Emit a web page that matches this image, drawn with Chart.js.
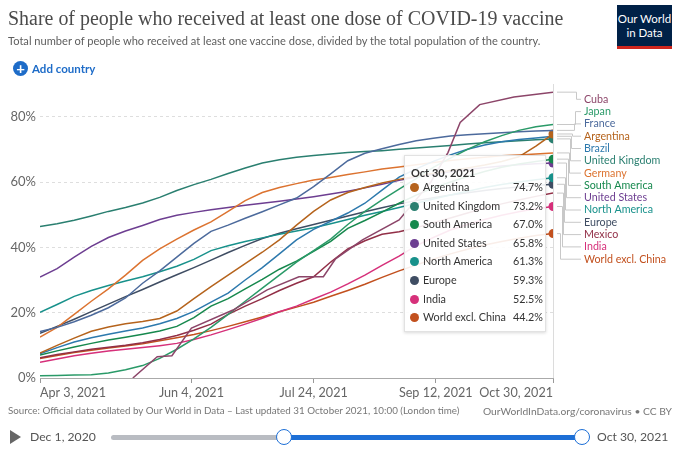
<!DOCTYPE html>
<html>
<head>
<meta charset="utf-8">
<script src="https://cdn.jsdelivr.net/npm/chart.js@4.4.1/dist/chart.umd.min.js"></script>
<style>
  body { margin:0; width:680px; height:451px; overflow:hidden; background:#fff; font-family:Lato, sans-serif; position:relative; }
  #chart { position:absolute; left:0; top:0; }
  .abs { position:absolute; white-space:nowrap; line-height:1; }
  #title { left:8px; top:9px; font-family:"Liberation Serif", serif; color:#4b4b4b; font-size:24px; }
  #subtitle { left:8px; top:35px; color:#5e5e5e; font-size:12.5px; }
  #add { left:13px; top:61px; color:#1e6cc8; font-size:11.5px; font-weight:bold; display:flex; align-items:center; }
  #add .plus { width:15px; height:15px; border-radius:50%; background:#1e6cc8; color:#fff; font-size:15px; line-height:15px; text-align:center; margin-right:4px; }
  #logo { left:617px; top:5px; width:55px; background:#002147; border-bottom:3px solid #ce261e; color:#fff; font-size:11.5px; text-align:center; line-height:14px; padding-top:7px; height:34px; }
  #source { left:8px; top:406px; color:#777; font-size:10px; }
  #credit { right:8px; top:406px; color:#777; font-size:10px; }
  #play { left:10px; top:430px; width:0; height:0; border-top:7px solid transparent; border-bottom:7px solid transparent; border-left:11px solid #666; }
  #start { left:30px; top:431px; color:#555; font-size:12.2px; }
  #end { left:597px; top:431px; color:#555; font-size:12.2px; }
  #track { left:111px; top:435px; width:471px; height:5px; background:#b9bcc2; border-radius:3px; }
  #range { left:284px; top:435px; width:298px; height:5px; background:#1d6fd6; }
  .handle { top:429px; width:14px; height:14px; border-radius:50%; background:#fff; border:1.5px solid #1d6fd6; }
  #tip { left:404px; top:155px; width:142px; height:177px; background:rgba(255,255,255,0.9); border:1px solid #e2e2e2; box-shadow:0 1px 3px rgba(0,0,0,0.15); box-sizing:border-box; font-size:10.8px; color:#333; }
  #tip .date { position:absolute; left:6px; top:11px; font-weight:bold; font-size:11px; }
  #tip .row { position:absolute; left:0; width:138px; height:14px; }
  #tip .dot { position:absolute; left:5px; top:1px; width:9px; height:9px; border-radius:50%; }
  #tip .name { position:absolute; left:18px; top:0; }
  #tip .val { position:absolute; right:0; top:0; }
</style>
</head>
<body>
<canvas id="chart" width="680" height="451"></canvas>
<div id="title" class="abs">Share of people who received at least one dose of COVID-19 vaccine</div>
<div id="subtitle" class="abs">Total number of people who received at least one vaccine dose, divided by the total population of the country.</div>
<div id="add" class="abs"><span class="plus">+</span>Add country</div>
<div id="logo" class="abs">Our World<br>in Data</div>
<div id="tip" class="abs"></div>
<div id="source" class="abs">Source: Official data collated by Our World in Data – Last updated 31 October 2021, 10:00 (London time)</div>
<div id="credit" class="abs">OurWorldInData.org/coronavirus • CC BY</div>
<div id="play" class="abs"></div>
<div id="start" class="abs">Dec 1, 2020</div>
<div id="track" class="abs"></div>
<div id="range" class="abs"></div>
<div class="abs handle" style="left:276px"></div>
<div class="abs handle" style="left:574px"></div>
<div id="end" class="abs">Oct 30, 2021</div>

<script>
// days since Apr 3, 2021 (weekly)
const days = [0,7,14,21,28,35,42,49,56,63,70,77,84,91,98,105,112,119,126,133,140,147,154,161,168,175,182,189,196,203,210];

const tickDays = [0, 62, 112, 162, 210];
const tickLabels = ["Apr 3, 2021", "Jun 4, 2021", "Jul 24, 2021", "Sep 12, 2021", "Oct 30, 2021"];
const yTicks = [0, 20, 40, 60, 80];
const hoverDate = "Oct 30, 2021";

// Cuba starts in May and is reported in steps
const cubaDays = [38,48,54,62,79,93,106,116,121,132,147,160,167,172,180,194,210];
const cuba = [0,6.5,6.8,15.3,20.8,27,31,31,36.5,42.3,48.4,60,69,78.2,83.7,86,87.5];

const japan = [0.7,0.8,0.9,1.0,1.5,2.5,3.8,6.0,8.8,12.0,15.5,19.5,23.5,27.5,31.5,35.5,39.0,42.5,47.0,51.0,54.5,57.8,61.0,64.5,67.3,70.0,72.3,74.2,75.8,76.9,77.6];
const france = [14.2,15.5,17.2,19.2,21.5,24.5,29.0,32.8,37.0,41.2,44.9,46.8,48.9,50.9,53.0,55.1,58.6,62.5,66.5,68.8,70.2,71.5,72.6,73.4,74.1,74.5,74.8,75.1,75.4,75.6,75.8];
const argentina = [7.6,10.0,12.2,14.3,15.6,16.6,17.3,18.2,20.5,24.3,28.0,31.5,35.0,38.5,42.3,46.8,51.0,54.5,56.8,58.3,59.7,60.8,61.8,62.7,63.5,64.3,65.2,66.3,67.7,71.0,74.7];
const brazil = [7.4,9.3,11.0,12.3,13.4,14.4,15.3,16.6,18.2,20.4,23.2,26.0,30.0,33.8,38.0,42.3,45.5,48.0,50.5,53.5,57.5,61.5,64.0,66.3,68.3,70.0,71.3,72.3,73.0,73.5,74.0];
const uk = [46.4,47.2,48.3,49.6,51.0,52.2,53.6,55.3,57.4,59.2,60.8,62.6,64.3,65.8,66.8,67.6,68.1,68.6,69.0,69.3,69.6,70.0,70.4,70.8,71.2,71.6,72.0,72.3,72.6,72.9,73.2];
const germany = [12.5,15.5,19.5,23.5,27.3,31.5,36.0,39.5,42.5,45.3,47.8,51.0,54.3,56.8,58.3,59.5,60.6,61.4,62.3,63.1,64.0,64.6,65.3,66.0,66.6,67.1,67.6,68.0,68.3,68.6,68.9];
const southAmerica = [7.0,8.3,9.5,10.6,11.6,12.5,13.4,14.4,15.8,18.5,22.0,24.3,27.3,30.2,33.3,35.8,38.8,41.8,45.8,48.2,50.8,53.5,56.0,58.2,60.0,61.7,63.2,64.5,65.5,66.3,67.0];
const us = [30.9,33.5,37.0,40.3,43.0,45.0,46.7,48.5,49.8,50.7,51.5,52.2,52.9,53.5,54.1,54.8,55.5,56.3,57.2,58.2,59.3,60.5,61.5,62.4,63.1,63.8,64.4,64.9,65.3,65.6,65.8];
const northAmerica = [20.1,22.5,25.0,26.8,28.3,29.7,31.0,32.5,34.2,36.3,39.0,40.5,41.8,42.9,44.0,45.0,46.0,47.2,48.5,49.8,51.0,52.2,53.5,54.8,56.0,57.2,58.3,59.2,60.0,60.7,61.3];
const europe = [13.7,15.8,18.0,20.3,22.6,24.9,27.1,29.4,31.6,33.8,36.1,38.4,40.6,42.7,44.3,45.7,47.0,48.3,49.6,50.9,52.1,53.3,54.3,55.2,56.0,56.7,57.4,58.0,58.5,58.9,59.3];
const mexico = [6.2,7.2,8.0,8.8,9.4,10.0,10.8,11.8,13.0,14.6,16.5,19.5,22.0,24.3,26.8,29.0,31.0,35.5,39.5,42.0,44.0,44.8,46.0,47.5,49.0,50.5,52.0,53.3,54.5,55.6,56.6];
const india = [4.8,5.8,6.8,7.6,8.3,8.8,9.3,9.9,10.6,11.8,13.2,14.8,16.5,18.3,20.3,22.0,24.2,26.3,28.8,31.5,34.5,37.3,40.5,43.0,45.3,47.0,48.5,49.8,50.9,51.8,52.5];
const worldExChina = [6.0,6.9,7.8,8.5,9.2,9.8,10.5,11.4,12.3,13.3,14.5,15.8,17.2,18.7,20.3,21.7,23.2,25.0,26.8,28.7,30.8,32.8,34.6,36.4,38.0,39.4,40.7,41.8,42.8,43.6,44.2];

// series in the order of the labels on the right
const series = [
    {name:"Cuba", x:cubaDays, y:cuba, color:"#8c4569", hover:false},
    {name:"Japan", x:days, y:japan, color:"#2a9a68", hover:false},
    {name:"France", x:days, y:france, color:"#4c6a9c", hover:false},
    {name:"Argentina", x:days, y:argentina, color:"#b5631c", hover:true},
    {name:"Brazil", x:days, y:brazil, color:"#2d79ad", hover:false},
    {name:"United Kingdom", x:days, y:uk, color:"#2a7f70", hover:true},
    {name:"Germany", x:days, y:germany, color:"#dc7330", hover:false},
    {name:"South America", x:days, y:southAmerica, color:"#16884d", hover:true},
    {name:"United States", x:days, y:us, color:"#6d3e91", hover:true},
    {name:"North America", x:days, y:northAmerica, color:"#18918b", hover:true},
    {name:"Europe", x:days, y:europe, color:"#3f4d63", hover:true},
    {name:"Mexico", x:days, y:mexico, color:"#922f47", hover:false},
    {name:"India", x:days, y:india, color:"#d6307a", hover:true},
    {name:"World excl. China", x:days, y:worldExChina, color:"#c2501e", hover:true}
];


// =======================================================
// Labels at the end of the lines + hover line
// =======================================================

const endLabels = {
    id: "endLabels",
    beforeDatasetsDraw(chart){
        const {ctx, chartArea} = chart;
        const hx = chart.scales.x.getPixelForValue(210);
        ctx.save();
        ctx.strokeStyle = "#dcdcdc";
        ctx.lineWidth = 1;
        ctx.beginPath();
        ctx.moveTo(Math.round(hx)+0.5, chartArea.top);
        ctx.lineTo(Math.round(hx)+0.5, chartArea.bottom);
        ctx.stroke();
        ctx.restore();
    },
    afterDatasetsDraw(chart){
        const {ctx, chartArea, scales:{x, y}} = chart;
        ctx.save();
        ctx.font = "10.7px Lato";
        ctx.textBaseline = "middle";
        series.forEach((s, i) => {
            const endX = x.getPixelForValue(s.x[s.x.length-1]);
            const endY = y.getPixelForValue(s.y[s.y.length-1]);
            const labelY = chartArea.top + 15.3 + i*12.3;
            const vx = Math.round(576 - i*1.2) + 0.5;
            ctx.strokeStyle = "#c8c8c8";
            ctx.lineWidth = 1;
            ctx.beginPath();
            ctx.moveTo(endX + 4, endY);
            ctx.lineTo(vx, endY);
            ctx.lineTo(vx, labelY);
            ctx.lineTo(chartArea.right + 28, labelY);
            ctx.stroke();
            ctx.fillStyle = s.color;
            ctx.fillText(s.name, chartArea.right + 31, labelY);
        });
        ctx.restore();
    }
};


// =======================================================
// Chart
// =======================================================

function drawChart(){

    new Chart(document.getElementById("chart"), {

        type: "line",

        data: {
            datasets: series.map(s => ({
                label: s.name,
                data: s.x.map((d, i) => ({x: d, y: s.y[i]})),
                borderColor: s.color,
                backgroundColor: s.color,
                borderWidth: 1.5,
                tension: 0,
                pointRadius: ctx => (s.hover && ctx.dataIndex === s.x.length - 1) ? 4.5 : 0,
                pointBorderWidth: 0,
                pointHoverRadius: 0
            }))
        },

        options: {
            responsive: false,
            animation: false,
            events: [],
            layout: { padding: { left: 0, right: 127, top: 84, bottom: 0 } },
            plugins: {
                legend: { display: false },
                tooltip: { enabled: false }
            },
            scales: {
                x: {
                    type: "linear",
                    min: 0,
                    max: 210,
                    afterBuildTicks: scale => { scale.ticks = tickDays.map(v => ({value: v})); },
                    afterFit: scale => { scale.height = 73; },
                    ticks: {
                        autoSkip: false,
                        maxRotation: 0,
                        align: "inner",
                        padding: 2,
                        color: "#666",
                        font: { family: "Lato", size: 12.6 },
                        callback: v => tickLabels[tickDays.indexOf(v)]
                    },
                    grid: { drawOnChartArea: false, drawTicks: true, tickLength: 5, color: "#999" },
                    border: { display: true, color: "#aaa" }
                },
                y: {
                    min: 0,
                    max: 90,
                    afterBuildTicks: scale => { scale.ticks = yTicks.map(v => ({value: v})); },
                    afterFit: scale => { scale.width = 40; },
                    ticks: {
                        padding: 4,
                        color: "#666",
                        font: { family: "Lato", size: 13 },
                        callback: v => v + "%"
                    },
                    grid: { drawTicks: false, color: "#dedede" },
                    border: { display: false, dash: [3, 3] }
                }
            }
        },

        plugins: [endLabels]
    });

}


// =======================================================
// Tooltip box (values of the hovered date)
// =======================================================

function drawTooltip(){
    const tip = document.getElementById("tip");
    let html = '<div class="date">' + hoverDate + '</div>';
    series.filter(s => s.hover).forEach((s, i) => {
        const v = s.y[s.y.length-1].toFixed(1) + "%";
        html += '<div class="row" style="top:' + (26 + i*18.6) + 'px">' +
            '<span class="dot" style="background:' + s.color + '"></span>' +
            '<span class="name">' + s.name + '</span>' +
            '<span class="val">' + v + '</span></div>';
    });
    tip.innerHTML = html;
}

function fitWidth(id, width){
    const el = document.getElementById(id);
    const size = parseFloat(getComputedStyle(el).fontSize);
    el.style.fontSize = (size * width / el.offsetWidth) + "px";
}

window.addEventListener("load", () => {
    fitWidth("title", 555);
    fitWidth("subtitle", 533);
    fitWidth("source", 452);
    fitWidth("credit", 189);
    drawTooltip();
    drawChart();
});
</script>
</body>
</html>
